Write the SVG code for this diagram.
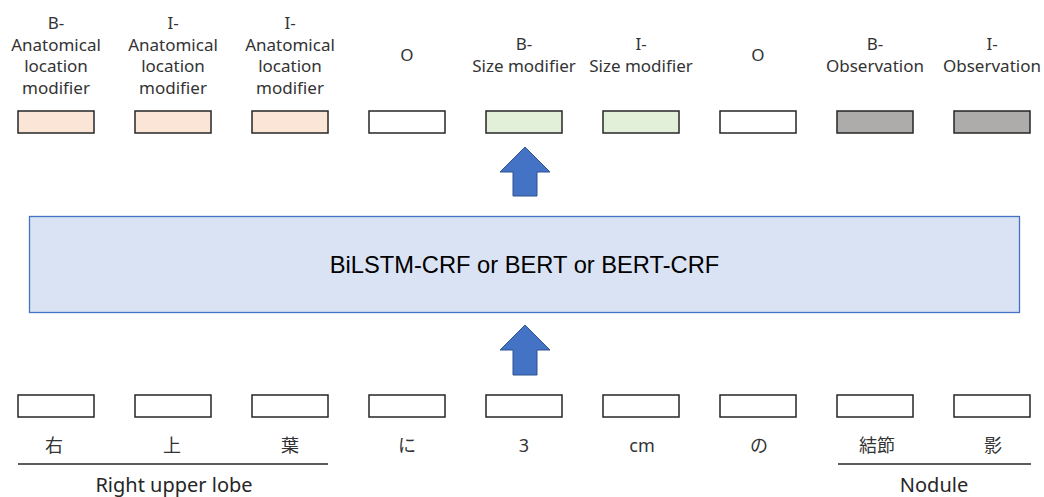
<svg xmlns="http://www.w3.org/2000/svg" width="1044" height="497" viewBox="0 0 1044 497">
<style>
.lbl{font-family:"Noto Sans","Noto Sans CJK JP",sans-serif;font-size:17px;fill:#333333;text-anchor:middle}
.tok{font-family:"Noto Sans","Noto Sans CJK JP",sans-serif;font-size:18px;fill:#333333;text-anchor:middle}
.grp{font-family:"Noto Sans","Noto Sans CJK JP",sans-serif;font-size:20px;fill:#262626;text-anchor:middle}
.box{stroke:#262626;stroke-width:1.5}
.peach{fill:#FBE5D6}.green{fill:#E2F0D9}.gray{fill:#AEABAB}.white{fill:#FFFFFF}
.arrow{fill:#4472C4;stroke:#2F528F;stroke-width:1}
.uline{stroke:#262626;stroke-width:1.3}
</style>
<rect width="1044" height="497" fill="#FFFFFF"/>
<g id="model">
<rect x="29.5" y="216.5" width="990" height="96" fill="#DAE3F3" stroke="#4472C4" stroke-width="1.3"/>
<text x="524.5" y="273" font-family="Liberation Sans, Arial, sans-serif" font-size="23.7" fill="#000000" text-anchor="middle">BiLSTM-CRF or BERT or BERT-CRF</text>
</g>
<g id="connectors">
<path class="arrow" d="M525,147 L550,172 L537,172 L537,196 L513,196 L513,172 L500,172 Z"/>
<path class="arrow" d="M525,325 L550,350 L537,350 L537,375 L513,375 L513,350 L500,350 Z"/>
</g>
<g id="output-1"><text class="lbl" x="56" y="29">B-</text><text class="lbl" x="56" y="50.5">Anatomical</text><text class="lbl" x="56" y="72">location</text><text class="lbl" x="56" y="93.5">modifier</text><rect class="box peach" x="18" y="111" width="76" height="22"/></g>
<g id="output-2"><text class="lbl" x="173" y="29">I-</text><text class="lbl" x="173" y="50.5">Anatomical</text><text class="lbl" x="173" y="72">location</text><text class="lbl" x="173" y="93.5">modifier</text><rect class="box peach" x="135" y="111" width="76" height="22"/></g>
<g id="output-3"><text class="lbl" x="290" y="29">I-</text><text class="lbl" x="290" y="50.5">Anatomical</text><text class="lbl" x="290" y="72">location</text><text class="lbl" x="290" y="93.5">modifier</text><rect class="box peach" x="252" y="111" width="76" height="22"/></g>
<g id="output-4"><text class="lbl" x="407" y="61">O</text><rect class="box white" x="369" y="111" width="76" height="22"/></g>
<g id="output-5"><text class="lbl" x="524" y="50">B-</text><text class="lbl" x="524" y="72">Size modifier</text><rect class="box green" x="486" y="111" width="76" height="22"/></g>
<g id="output-6"><text class="lbl" x="641" y="50">I-</text><text class="lbl" x="641" y="72">Size modifier</text><rect class="box green" x="603" y="111" width="76" height="22"/></g>
<g id="output-7"><text class="lbl" x="758" y="61">O</text><rect class="box white" x="720" y="111" width="76" height="22"/></g>
<g id="output-8"><text class="lbl" x="875" y="50">B-</text><text class="lbl" x="875" y="72">Observation</text><rect class="box gray" x="837" y="111" width="76" height="22"/></g>
<g id="output-9"><text class="lbl" x="992" y="50">I-</text><text class="lbl" x="992" y="72">Observation</text><rect class="box gray" x="954" y="111" width="76" height="22"/></g>
<g id="input-1"><rect class="box white" x="18" y="395" width="76" height="22"/><text class="tok" x="54" y="452">右</text></g>
<g id="input-2"><rect class="box white" x="135" y="395" width="76" height="22"/><text class="tok" x="172" y="452">上</text></g>
<g id="input-3"><rect class="box white" x="252" y="395" width="76" height="22"/><text class="tok" x="290" y="452">葉</text></g>
<g id="input-4"><rect class="box white" x="369" y="395" width="76" height="22"/><text class="tok" x="407" y="452">に</text></g>
<g id="input-5"><rect class="box white" x="486" y="395" width="76" height="22"/><text class="tok" x="524" y="452">3</text></g>
<g id="input-6"><rect class="box white" x="603" y="395" width="76" height="22"/><text class="tok" x="642" y="452">cm</text></g>
<g id="input-7"><rect class="box white" x="720" y="395" width="76" height="22"/><text class="tok" x="759" y="452">の</text></g>
<g id="input-8"><rect class="box white" x="837" y="395" width="76" height="22"/><text class="tok" x="877" y="452">結節</text></g>
<g id="input-9"><rect class="box white" x="954" y="395" width="76" height="22"/><text class="tok" x="993" y="452">影</text></g>
<g id="group-right-upper-lobe"><line class="uline" x1="18" y1="464" x2="328" y2="464"/><text class="grp" x="174" y="492">Right upper lobe</text></g>
<g id="group-nodule"><line class="uline" x1="838" y1="464" x2="1031" y2="464"/><text class="grp" x="934" y="492">Nodule</text></g>
</svg>
